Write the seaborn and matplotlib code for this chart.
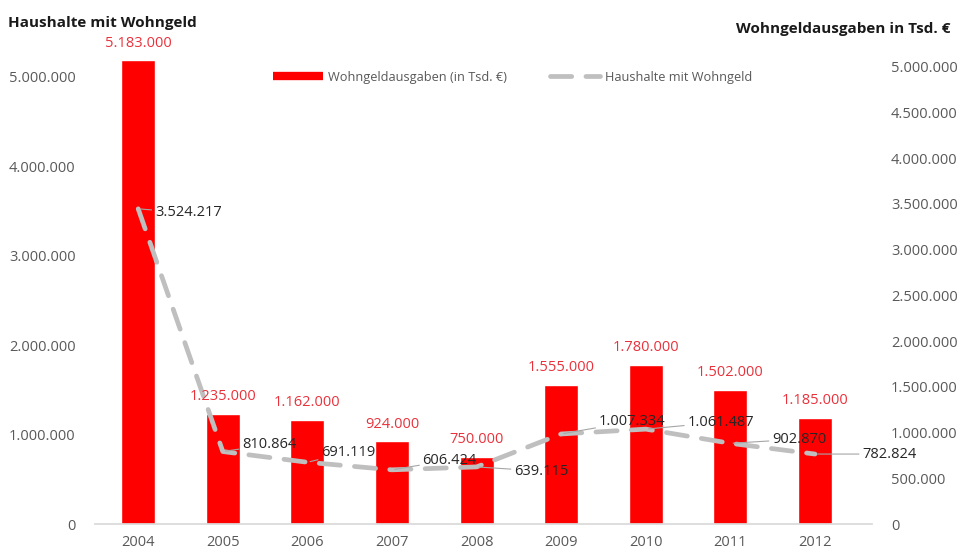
import numpy as np
import pandas as pd
import matplotlib.pyplot as plt
from matplotlib.lines import Line2D
from matplotlib.ticker import FuncFormatter
import seaborn as sns

# Daten
jahre = ["2004", "2005", "2006", "2007", "2008", "2009", "2010", "2011", "2012"]
ausgaben = [5183000, 1235000, 1162000, 924000, 750000, 1555000, 1780000, 1502000, 1185000]
haushalte = [3524217, 810864, 691119, 606424, 639115, 1007334, 1061487, 902870, 782824]

# Versatz der Linien-Beschriftungen (in Punkt)
label_offsets = [(12, -3), (14, 5), (10, 7), (22, 7), (27, -3), (27, 9), (30, 5), (30, 3), (34, 0)]

sns.set_theme(style="white")
plt.rcParams["font.family"] = ["Open Sans", "DejaVu Sans"]

rot = "#FF0000"
rot_text = "#E8323C"
grau = "#BFBFBF"
text_grau = "#595959"

df = pd.DataFrame({"jahr": jahre, "ausgaben": ausgaben, "haushalte": haushalte})
df["pos"] = np.arange(len(df))

fig = plt.figure(figsize=(9.6, 5.54), dpi=100)
ax = fig.add_axes([0.099, 0.054, 0.809, 0.872])

sns.barplot(data=df, x="jahr", y="ausgaben", color=rot, saturation=1, width=0.4, ax=ax)
sns.lineplot(data=df, x="pos", y="haushalte", ax=ax, color=grau, linewidth=3.4,
             linestyle=(0, (4.5, 3)), dash_capstyle="round")

fmt = FuncFormatter(lambda v, p: f"{int(v):,}".replace(",", "."))

ax.set_xlim(-0.51, 8.67)
ax.set_ylim(0, 5400000)
ax.set_yticks(np.arange(0, 5000001, 1000000))
ax.yaxis.set_major_formatter(fmt)
ax.tick_params(axis="y", length=0, pad=14, labelsize=10.5, labelcolor=text_grau)
ax.tick_params(axis="x", length=0, pad=8, labelsize=10.5, labelcolor=text_grau)
ax.set_xlabel("")
ax.set_ylabel("")
for s in ["top", "right", "left"]:
    ax.spines[s].set_visible(False)
ax.spines["bottom"].set_color("#D9D9D9")

# zweite Achse rechts
ax2 = ax.twinx()
ax2.set_ylim(0, 5400000 * 447 / 457)
ax2.set_yticks(np.arange(0, 5000001, 500000))
ax2.yaxis.set_major_formatter(fmt)
ax2.tick_params(axis="y", length=0, pad=14, labelsize=10.5, labelcolor=text_grau)
for s in ax2.spines.values():
    s.set_visible(False)
ax2.grid(False)

# Beschriftungen Balken
for i, v in enumerate(ausgaben):
    ax.annotate(fmt(v, None), (i, v), xytext=(0, 7), textcoords="offset points",
                ha="center", va="bottom", color=rot_text, fontsize=10.5)

# Beschriftungen Linie
for i, v in enumerate(haushalte):
    dx, dy = label_offsets[i]
    ax.annotate(fmt(v, None), (i, v), xytext=(dx, dy), textcoords="offset points",
                ha="left", va="center", color="#262626", fontsize=10.5,
                arrowprops=dict(arrowstyle="-", color="#A6A6A6", lw=0.8,
                                shrinkA=0, shrinkB=2))

fig.text(0.008, 0.958, "Haushalte mit Wohngeld", fontsize=11, fontweight="bold",
         color="#1a1a1a", va="center", ha="left")
fig.text(0.99, 0.948, "Wohngeldausgaben in Tsd. €", fontsize=11, fontweight="bold",
         color="#1a1a1a", va="center", ha="right")

handles = [Line2D([], [], color=rot, linewidth=6, solid_capstyle="butt"),
           Line2D([], [], color=grau, linewidth=3.4, linestyle=(0, (4.5, 3)),
                  dash_capstyle="round")]
fig.legend(handles, ["Wohngeldausgaben (in Tsd. €)", "Haushalte mit Wohngeld"],
           loc="center", bbox_to_anchor=(0.534, 0.861), ncol=2, frameon=False,
           fontsize=9.2, labelcolor=text_grau, handlelength=3.9, columnspacing=3.4,
           handletextpad=0.4)

plt.savefig("out.png", dpi=100)
